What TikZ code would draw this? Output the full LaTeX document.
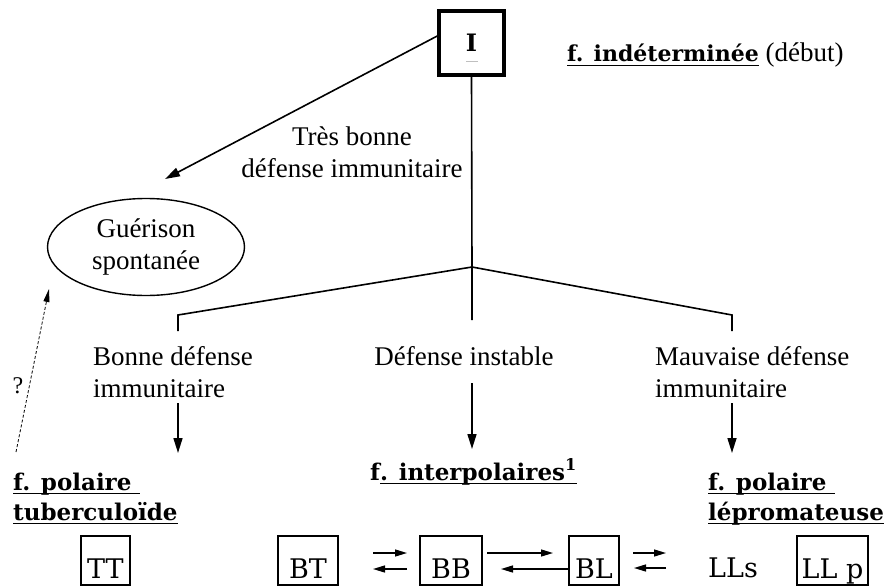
\documentclass[tikz,border=0pt]{standalone}
\usepackage{fontspec}
\setmainfont{Liberation Serif}
\newfontfamily\hf{DejaVu Serif}
\usetikzlibrary{arrows.meta,shapes.geometric}
\newcommand\myul[1]{\setbox0\hbox{#1}\rlap{\rule[-4pt]{\wd0}{1.4pt}}\box0}
\begin{document}
\begin{tikzpicture}[x=1pt,y=-1pt,
  txt/.style={font=\fontsize{27}{32}\selectfont, inner sep=0pt},
  hd/.style={font=\hf\bfseries\fontsize{23}{30}\selectfont, inner sep=0pt, align=left},
  bx/.style={draw, line width=1.5pt, font=\hf\fontsize{27}{30}\selectfont, inner sep=0pt,
     text height=35pt, text depth=0pt, minimum height=49pt},
  ln/.style={line width=1.6pt},
  arr/.style={line width=1.6pt, -{Triangle[length=15pt,width=9pt]}},
  sarr/.style={line width=1.4pt, -{Triangle[length=12pt,width=7pt]}},
  dsh/.style={line width=0.8pt, dash pattern=on 3pt off 2pt, -{Triangle[length=13pt,width=6pt]}}]
\useasboundingbox (0,0) rectangle (895,586);

% top box
\node[draw, line width=3.5pt, minimum width=65pt, minimum height=64pt, inner sep=0pt,
      font=\hf\bfseries\fontsize{24}{28}\selectfont] (I) at (471.5,43) {I};
\draw[gray!50, line width=1pt] (466,62) -- (478,62);
\node[txt, anchor=base west] (indet) at (567,62) {{\hf\bfseries\fontsize{22}{26}\selectfont\myul{f. indéterminée}} (début)};

% arrow to guérison
\coordinate (gtip) at (165,179);
\draw[arr] ([yshift=7pt]I.west) -- (gtip);
\node[txt, align=center, anchor=base] (tbd) at (352,177) {Très bonne\\défense immunitaire};

\node[draw, ellipse, line width=1.4pt, minimum width=197pt, minimum height=97pt, inner sep=0pt,
      txt, align=center] (G) at (146,247) {Guérison\\spontanée};

% tree
\coordinate (junc) at (472,267);
\coordinate (midend) at (472,320);
\coordinate (lc) at (178,315);
\coordinate (ld) at (178,331);
\coordinate (rc) at (732,315);
\coordinate (rd) at (732,331);
\draw[ln] (I.south) -- (junc) -- (midend);
\draw[ln] (junc) -- (lc) -- (ld);
\draw[ln] (junc) -- (rc) -- (rd);

\node[txt, anchor=base west, align=left] (bonne) at (93,397) {Bonne défense\\immunitaire};
\node[txt, anchor=base] (inst) at (464,365) {Défense instable};
\node[txt, anchor=base west, align=left] (mauv) at (655,397) {Mauvaise défense\\immunitaire};

\coordinate (a1s) at (178,403); \coordinate (a1e) at (178,453);
\coordinate (a2s) at (472,383); \coordinate (a2e) at (472,449);
\coordinate (a3s) at (732,403); \coordinate (a3e) at (732,453);
\draw[arr] (a1s) -- (a1e);
\draw[arr] (a2s) -- (a2e);
\draw[arr] (a3s) -- (a3e);

% dashed
\coordinate (ds) at (16,452);
\coordinate (de) at (49,289);
\draw[dsh] (ds) -- (de);
\node[txt, font=\fontsize{24}{26}\selectfont] (q) at (18,386) {?};

% headings
\node[hd, anchor=base west] (tub) at (13,520) {\myul{f. polaire\ }\\\myul{tuberculoïde}};
\node[hd, anchor=base west] (inter) at (370,480) {f\myul{. interpolaires\textsuperscript{1}}};
\node[hd, anchor=base west] (lep) at (708,520) {\myul{f. polaire\ }\\\myul{lépromateuse}};

% boxes
\node[bx, minimum width=49pt] (TT) at (105.5,560.5) {TT};
\node[bx, minimum width=60pt] (BT) at (308,560.5) {BT};
\node[bx, minimum width=62pt] (BB) at (451,560.5) {BB};
\node[bx, minimum width=50pt] (BL) at (594,560.5) {BL};
\node[txt, font=\hf\fontsize{27}{30}\selectfont, anchor=base west] (LLs) at (708,577) {LLs};
\node[bx, minimum width=71pt] (LLp) at (832.5,560.5) {LL p};

% exchange arrows
\coordinate (e1a) at (373,553); \coordinate (e1b) at (407,553);
\coordinate (e2a) at (407,569); \coordinate (e2b) at (373,569);
\draw[sarr] (e1a) -- (e1b);
\draw[sarr] (e2a) -- (e2b);
\coordinate (f1a) at (487,553); \coordinate (f1b) at (553,553);
\coordinate (f2b) at (501,569);
\draw[sarr] (f1a) -- (f1b);
\draw[sarr] (BL.west |- f2b) -- (f2b);
\coordinate (g1a) at (633,553); \coordinate (g1b) at (666,553);
\coordinate (g2a) at (666,568); \coordinate (g2b) at (634,568);
\draw[sarr] (g1a) -- (g1b);
\draw[sarr] (g2a) -- (g2b);
\end{tikzpicture}
\end{document}
